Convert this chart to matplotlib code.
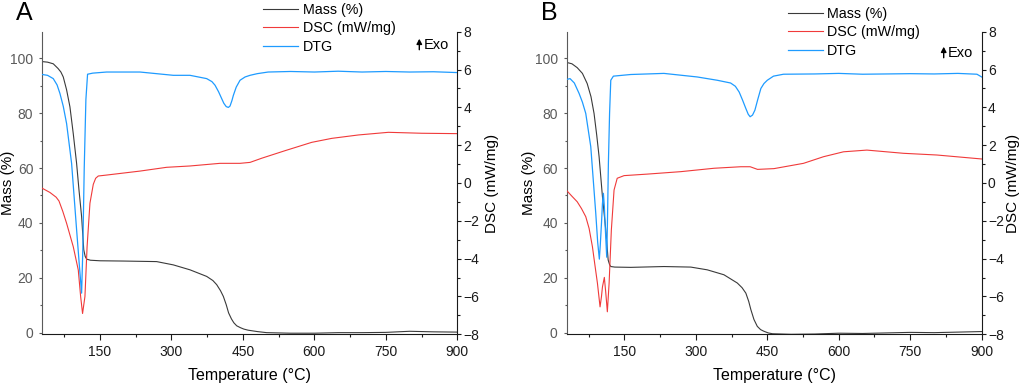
import matplotlib
matplotlib.use('Agg')
import matplotlib.pyplot as plt
from matplotlib.ticker import MultipleLocator, FixedLocator

plt.rcParams['font.family'] = ['Liberation Sans', 'DejaVu Sans']

# ---------------- Panel A data ----------------
temp_mass_a = [29, 40, 52, 62, 68, 73, 80, 87, 94, 101, 106, 111.5, 116, 119, 122, 130, 150, 200,
               269, 304, 339, 374, 387, 395, 403, 409, 415, 420, 426, 431, 437, 445, 452, 461, 480,
               500, 550, 600, 650, 700, 750, 800, 850, 900]
mass_a = [98.8, 98.6, 98.0, 96.3, 95.0, 93.2, 88.5, 82.3, 72.5, 61.7, 52.0, 42.3, 30.2, 27.8,
          26.8, 26.4, 26.2, 26.1, 25.9, 24.7, 22.9, 20.5, 19.0, 17.5, 15.3, 13.2, 10.2, 7.2,
          5.0, 3.6, 2.5, 1.8, 1.3, 0.9, 0.4, 0.0, -0.2, -0.2, 0.0, 0.0, 0.1, 0.5, 0.3, 0.2]

temp_dtg_a = [29, 40, 52, 60, 66, 73, 80, 90.5, 101, 107, 111.5, 114, 117, 120.5, 124, 135, 164,
              234, 304, 339, 374, 385, 391.5, 399, 405.5, 410, 415, 419.5, 423, 427, 430, 436,
              444, 454.6, 465, 480, 503, 550, 600, 650, 700, 750, 800, 850, 900]
dtg_a = [94.1, 93.8, 92.6, 90.3, 87.2, 82.5, 76.2, 61.7, 37.5, 24.0, 14.4, 30.0, 60.0, 85.0,
         94.2, 94.6, 95.0, 95.0, 93.8, 93.8, 92.6, 91.5, 90.2, 87.8, 85.3, 83.6, 82.4, 82.1,
         82.6, 84.6, 86.5, 89.5, 92.0, 93.2, 93.8, 94.4, 95.0, 95.2, 95.0, 95.3, 95.0, 95.2,
         95.0, 95.1, 94.8]

temp_dsc_a = [29, 45, 58, 64, 72, 80, 94, 104.5, 109.5, 113.5, 118.5, 123, 129, 136, 141, 146.5,
              164, 234, 290, 339, 402, 444, 465, 489.5, 538.6, 594.5, 636.5, 692.4, 755.4, 825.5,
              900]
dsc_a = [-0.28, -0.5, -0.75, -0.95, -1.5, -2.13, -3.37, -4.6, -6.01, -6.9, -6.0, -3.37, -1.07,
         -0.07, 0.25, 0.37, 0.42, 0.63, 0.83, 0.9, 1.04, 1.04, 1.09, 1.31, 1.71, 2.15, 2.36,
         2.54, 2.68, 2.63, 2.61]

# ---------------- Panel B data ----------------
temp_mass_b = [29, 40, 51, 62, 72, 80, 86.4, 92, 97, 104, 111, 116, 119, 121.5, 130, 163.5, 233,
               289.5, 324, 359, 387, 397, 405, 411, 415.5, 422, 429, 436, 443, 452, 461, 500,
               550, 600, 650, 700, 750, 800, 850, 900]
mass_b = [98.5, 98.0, 96.6, 94.5, 90.8, 86.0, 79.9, 72.0, 64.1, 49.6, 37.5, 26.5, 24.8, 24.1,
          23.9, 23.8, 24.1, 23.9, 22.9, 21.1, 18.1, 16.4, 14.4, 11.4, 8.4, 4.8, 2.3, 1.1, 0.5,
          -0.1, -0.4, -0.6, -0.5, -0.2, -0.3, -0.1, 0.1, 0.0, 0.2, 0.4]

temp_dtg_b = [29, 36, 45, 55, 62, 69, 79.5, 90, 94, 97.5, 99.5, 102, 104, 106, 108, 110, 113,
              114.5, 116.5, 119, 121.5, 127, 163.5, 233, 303, 345, 373, 383, 391, 398, 405,
              410, 414, 419, 424, 430, 436.5, 443, 450, 463, 484, 550, 600, 650, 700, 750,
              800, 850, 890, 900]
dtg_b = [92.3, 92.6, 91.0, 87.2, 84.0, 79.9, 67.8, 43.5, 33.0, 26.8, 32.0, 39.9, 47.0, 50.8,
         46.0, 38.0, 27.5, 40.0, 61.7, 80.0, 92.0, 93.5, 94.1, 94.5, 93.2, 92.0, 91.0, 89.8,
         87.7, 84.8, 81.7, 79.6, 78.7, 79.3, 81.1, 85.0, 89.0, 90.8, 92.0, 93.5, 94.2, 94.3,
         94.5, 94.2, 94.3, 94.4, 94.3, 94.5, 94.2, 93.2]

temp_dsc_b = [29, 40, 51, 60, 69, 76, 83, 88, 93.5, 99, 102, 104, 108, 111, 114.3, 118, 122.7,
              128.4, 135, 149.4, 198, 268.5, 338.5, 394.5, 414, 429.5, 464, 526, 568, 610, 659,
              736, 806, 900]
dsc_b = [-0.4, -0.7, -0.99, -1.35, -1.78, -2.4, -3.37, -4.3, -5.3, -6.55, -6.0, -5.5, -4.99,
         -5.8, -6.81, -5.3, -2.49, -0.37, 0.25, 0.39, 0.47, 0.6, 0.78, 0.86, 0.86, 0.72, 0.76,
         1.04, 1.39, 1.65, 1.74, 1.57, 1.48, 1.27]

panel_letters = ['A', 'B']
series_labels = ['Mass (%)', 'DSC (mW/mg)', 'DTG']
x_ticks = [150, 300, 450, 600, 750, 900]
x_minor_ticks = [75, 225, 375, 525, 675, 825]
mass_ticks = [0, 20, 40, 60, 80, 100]
dsc_ticks = [-8, -6, -4, -2, 0, 2, 4, 6, 8]

C_MASS = '#3a3a3a'
C_DSC = '#f03a3a'
C_DTG = '#1e9bff'
C_LEFT = '#5a5a5a'
C_DARK = '#1a1a1a'

W, H = 1024, 386
fig = plt.figure(figsize=(W / 100, H / 100), dpi=100)

panels = [
    dict(left=42.3, data=(temp_mass_a, mass_a, temp_dsc_a, dsc_a, temp_dtg_a, dtg_a),
         leg_top=3.0, exo_y=45, letter_x=16, ylab_x=-0.066, rlab_x=1.066),
    dict(left=566.7, data=(temp_mass_b, mass_b, temp_dsc_b, dsc_b, temp_dtg_b, dtg_b),
         leg_top=7.0, exo_y=53, letter_x=541, ylab_x=-0.073, rlab_x=1.059),
]
ax_w, ax_top, ax_bot = 415.0, 31.7, 334.3

for i, p in enumerate(panels):
    tm, m, td, d, tg, g = p['data']
    rect = [p['left'] / W, 1 - ax_bot / H, ax_w / W, (ax_bot - ax_top) / H]
    ax = fig.add_axes(rect)
    ax2 = ax.twinx()
    ax3 = ax.twinx()

    l1, = ax.plot(tm, m, color=C_MASS, lw=0.8)
    l2, = ax2.plot(td, d, color=C_DSC, lw=0.8)
    l3, = ax3.plot(tg, g, color=C_DTG, lw=0.9)

    for a in (ax, ax2, ax3):
        a.set_xlim(29, 900)
        a.spines['top'].set_visible(False)
    ax.set_ylim(-0.6, 109.7)
    ax3.set_ylim(-0.6, 109.7)
    ax2.set_ylim(-8, 8)
    ax3.axis('off')

    ax.spines['right'].set_visible(False)
    ax2.spines['left'].set_visible(False)
    ax2.spines['bottom'].set_visible(False)
    ax.spines['left'].set_color(C_LEFT)
    ax.spines['bottom'].set_color(C_DARK)
    ax2.spines['right'].set_color(C_DARK)
    for s in ('left', 'bottom'):
        ax.spines[s].set_linewidth(0.8)
    ax2.spines['right'].set_linewidth(0.8)

    ax.xaxis.set_major_locator(FixedLocator(x_ticks))
    ax.xaxis.set_minor_locator(FixedLocator(x_minor_ticks))
    ax.yaxis.set_major_locator(FixedLocator(mass_ticks))
    ax.yaxis.set_minor_locator(MultipleLocator(10))
    ax2.yaxis.set_major_locator(FixedLocator(dsc_ticks))
    ax2.yaxis.set_minor_locator(MultipleLocator(1))

    ax.tick_params(axis='x', which='major', direction='out', length=4, width=0.8,
                   color=C_DARK, labelcolor=C_DARK, labelsize=10, pad=3.5)
    ax.tick_params(axis='x', which='minor', direction='out', length=2.2, width=0.8, color=C_DARK)
    ax.tick_params(axis='y', which='major', direction='out', length=2.5, width=0.8,
                   color=C_LEFT, labelcolor=C_LEFT, labelsize=10, pad=4)
    ax.tick_params(axis='y', which='minor', direction='out', length=1.8, width=0.8, color=C_LEFT)
    ax2.tick_params(axis='y', which='major', direction='out', length=3, width=0.8,
                    color=C_DARK, labelcolor=C_DARK, labelsize=10, pad=1.5)
    ax2.tick_params(axis='y', which='minor', direction='out', length=2, width=0.8, color=C_DARK)

    ax.set_xlabel('Temperature (°C)', fontsize=11.5, color='black')
    ax.xaxis.set_label_coords(0.5, -0.112)
    ax.set_ylabel('Mass (%)', fontsize=11, color='black')
    ax.yaxis.set_label_coords(p['ylab_x'], 0.5)
    ax2.set_ylabel('DSC (mW/mg)', fontsize=11, color='black')
    ax2.yaxis.set_label_coords(p['rlab_x'], 0.5)

    # legend
    lx = p['left'] + 221
    fig.legend([l1, l2, l3], series_labels, loc='upper left',
               bbox_to_anchor=(lx / W, 1 - p['leg_top'] / H), frameon=False,
               fontsize=10.3, handlelength=2.45, handletextpad=0.3, labelspacing=0.3,
               borderpad=0, borderaxespad=0)

    # Exo arrow
    axx = p['left'] + 377
    ey = p['exo_y']
    fig.add_artist(matplotlib.patches.FancyArrowPatch(
        (axx / W, 1 - (ey + 7.5) / H), (axx / W, 1 - (ey - 9) / H),
        transform=fig.transFigure, arrowstyle='-|>,head_length=3,head_width=1.6',
        color='black', lw=1.0, mutation_scale=1))
    fig.text((axx + 4) / W, 1 - ey / H, 'Exo', fontsize=10.5, va='center', ha='left')

    # panel letter
    fig.text(p['letter_x'] / W, 1 - 1 / H, panel_letters[i], fontsize=18,
             va='top', ha='left')

fig.savefig('out.png', dpi=100)
